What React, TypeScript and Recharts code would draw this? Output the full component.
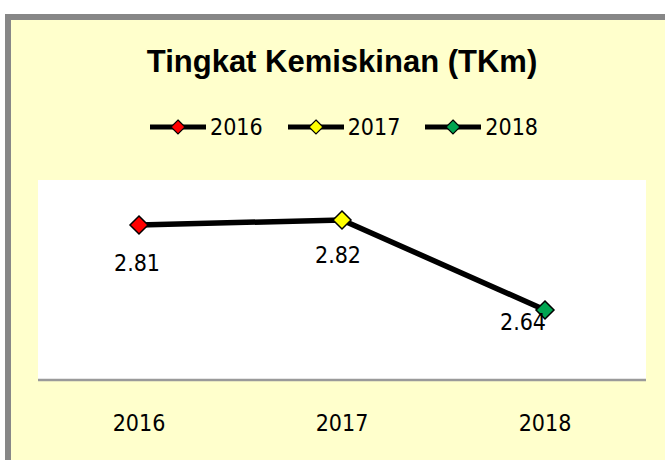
import React from 'react';
import { LineChart, Line, XAxis, YAxis, CartesianGrid, Legend, LabelList } from 'recharts';

const categories = ['2016', '2017', '2018'];
const values = [2.81, 2.82, 2.64];
const pointColors = ['#FF0000', '#FFFF00', '#00A550'];
const yDomain = [2.5, 2.9];

const data = categories.map((c, i) => ({ year: c, tkm: values[i] }));

// label placement offsets (dx, dy) relative to each point
const labelOffsets = [
  [-2, 38],
  [-4, 35],
  [-22, 12],
];

const NUM_FONT = '"DejaVu Sans Condensed", "DejaVu Sans", sans-serif';

const Diamond = (props: any) => {
  const { cx, cy, index } = props;
  if (cx == null || cy == null) return null;
  const r = 9;
  return (
    <path
      d={`M${cx},${cy - r} L${cx + r},${cy} L${cx},${cy + r} L${cx - r},${cy} Z`}
      fill={pointColors[index]}
      stroke="#000"
      strokeWidth={1.5}
    />
  );
};

const renderLabel = (props: any) => {
  const { x, y, value, index } = props;
  const [dx, dy] = labelOffsets[index];
  return (
    <text
      x={x + dx}
      y={y + dy}
      dy="0.36em"
      textAnchor="middle"
      fontFamily={NUM_FONT}
      style={{ fontStretch: 'condensed' }}
      fontSize={23}
      fill="#000"
    >
      {value.toFixed(2)}
    </text>
  );
};

const renderLegend = () => (
  <div style={{ display: 'flex', justifyContent: 'center', alignItems: 'center', gap: 25 }}>
    {categories.map((c, i) => (
      <div key={c} style={{ display: 'flex', alignItems: 'center' }}>
        <svg width={56} height={20} style={{ display: 'block' }}>
          <line x1={0} y1={10} x2={56} y2={10} stroke="#000" strokeWidth={5} />
          <path d="M28,3 L35,10 L28,17 L21,10 Z" fill={pointColors[i]} stroke="#000" strokeWidth={1.2} />
        </svg>
        <span style={{ fontFamily: NUM_FONT, fontStretch: 'condensed', fontSize: 23, marginLeft: 4, lineHeight: '26px', color: '#000' }}>{c}</span>
      </div>
    ))}
  </div>
);

export default function App() {
  return (
    <div style={{ position: 'absolute', left: 0, top: 0, width: 665, height: 460, overflow: 'hidden', background: '#fff' }}>
      <div
        style={{
          position: 'absolute',
          left: 5,
          top: 14,
          width: 700,
          height: 500,
          borderLeft: '6px solid #878787',
          borderTop: '6px solid #878787',
          background: '#FFFFCC',
        }}
      />
      <div
        style={{
          position: 'absolute',
          left: 0,
          width: 684,
          top: 44,
          textAlign: 'center',
          fontFamily: '"Liberation Sans", Arial, sans-serif',
          fontWeight: 'bold',
          fontSize: 31,
          lineHeight: '36px',
          color: '#000',
        }}
      >
        Tingkat Kemiskinan (TKm)
      </div>
      <div style={{ position: 'absolute', left: 0, top: 0 }}>
        <LineChart width={665} height={460} data={data} margin={{ top: 180, right: 19, bottom: 50, left: 38 }}>
          <CartesianGrid fill="#FFFFFF" stroke="none" horizontal={false} vertical={false} />
          <XAxis
            dataKey="year"
            padding={{ left: 101, right: 101 }}
            axisLine={{ stroke: '#9A9A9A', strokeWidth: 2.5 }}
            tickLine={false}
            tickSize={0}
            tickMargin={35}
            tick={{ fontFamily: NUM_FONT, fontSize: 23, fill: '#000', style: { fontStretch: 'condensed' } }}
          />
          <YAxis hide domain={yDomain} />
          <Legend
            verticalAlign="middle"
            align="center"
            content={renderLegend}
            wrapperStyle={{ top: 114, left: 0, width: 688 }}
          />
          <Line
            dataKey="tkm"
            stroke="#000"
            strokeWidth={5.5}
            dot={<Diamond />}
            activeDot={false}
            isAnimationActive={false}
          >
            <LabelList dataKey="tkm" content={renderLabel} />
          </Line>
        </LineChart>
      </div>
    </div>
  );
}
